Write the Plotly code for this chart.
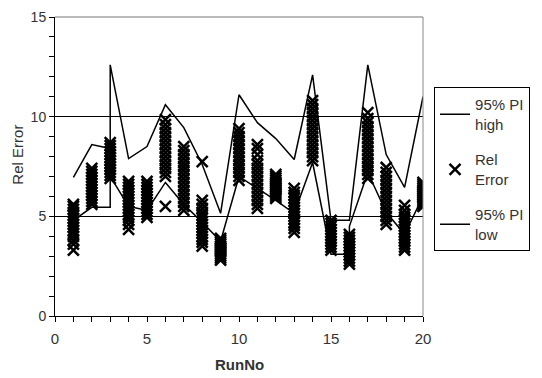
import plotly.graph_objects as go

# ---- data ----
runs = list(range(1, 21))

rel_error_by_run = [
    [3.3, 3.6, 3.8, 4.0, 4.15, 4.3, 4.45, 4.6, 4.75, 4.9, 5.05, 5.2, 5.35, 5.5, 5.6],
    [5.6, 5.75, 5.9, 6.05, 6.2, 6.35, 6.5, 6.65, 6.8, 6.95, 7.1, 7.25, 7.4],
    [6.9, 7.05, 7.2, 7.35, 7.5, 7.65, 7.8, 7.95, 8.1, 8.25, 8.4, 8.55, 8.7],
    [4.35, 4.6, 4.8, 4.95, 5.1, 5.25, 5.4, 5.55, 5.7, 5.85, 6.0, 6.15, 6.3, 6.45, 6.6, 6.75],
    [4.95, 5.1, 5.25, 5.4, 5.55, 5.7, 5.85, 6.0, 6.15, 6.3, 6.45, 6.6, 6.75],
    [5.5, 7.0, 7.2, 7.4, 7.6, 7.8, 8.0, 8.2, 8.4, 8.6, 8.8, 9.0, 9.2, 9.4, 9.6, 9.85],
    [5.3, 5.5, 5.7, 5.9, 6.1, 6.3, 6.5, 6.7, 6.9, 7.1, 7.3, 7.5, 7.7, 7.9, 8.1, 8.3, 8.5],
    [3.5, 3.7, 3.85, 4.0, 4.15, 4.3, 4.45, 4.6, 4.75, 4.9, 5.05, 5.2, 5.4, 5.6, 5.8, 7.75],
    [2.8, 2.9, 3.0, 3.1, 3.2, 3.3, 3.4, 3.5, 3.6, 3.7, 3.8, 3.9],
    [6.8, 7.0, 7.2, 7.4, 7.6, 7.8, 8.0, 8.2, 8.4, 8.6, 8.8, 9.0, 9.2, 9.4],
    [5.4, 5.6, 5.8, 6.0, 6.2, 6.4, 6.6, 6.8, 7.0, 7.2, 7.4, 7.6, 7.8, 8.1, 8.4, 8.6],
    [5.9, 6.0, 6.1, 6.2, 6.3, 6.4, 6.5, 6.6, 6.7, 6.8, 6.9, 7.0, 7.1],
    [4.2, 4.4, 4.55, 4.7, 4.85, 5.0, 5.15, 5.3, 5.45, 5.6, 5.75, 5.9, 6.05, 6.2, 6.4],
    [7.8, 8.0, 8.2, 8.4, 8.6, 8.8, 9.0, 9.2, 9.4, 9.6, 9.8, 10.0, 10.2, 10.4, 10.6, 10.8],
    [3.3, 3.45, 3.6, 3.75, 3.9, 4.05, 4.2, 4.35, 4.5, 4.65, 4.8],
    [2.6, 2.75, 2.9, 3.05, 3.2, 3.35, 3.5, 3.65, 3.8, 3.95, 4.1],
    [6.9, 7.1, 7.3, 7.5, 7.7, 7.9, 8.1, 8.3, 8.5, 8.7, 8.9, 9.1, 9.3, 9.5, 9.7, 9.9, 10.2],
    [4.6, 4.8, 5.0, 5.2, 5.4, 5.6, 5.8, 6.0, 6.2, 6.4, 6.6, 6.8, 7.0, 7.2, 7.45],
    [3.3, 3.45, 3.6, 3.75, 3.9, 4.05, 4.2, 4.35, 4.5, 4.65, 4.8, 4.95, 5.1, 5.3, 5.55],
    [5.5, 5.6, 5.7, 5.8, 5.9, 6.0, 6.1, 6.2, 6.3, 6.4, 6.5, 6.6, 6.7],
]

pi_high_x = [1, 2, 3, 3, 4, 5, 6, 7, 8, 9, 10, 11, 12, 13, 14, 15, 16, 17, 18, 19, 20]
pi_high = [6.95, 8.6, 8.4, 12.6, 7.9, 8.5, 10.6, 9.45, 7.6, 5.15, 11.1, 9.7, 8.9, 7.85,
           12.1, 4.8, 4.8, 12.6, 8.1, 6.45, 11.0]

pi_low_x = [1, 2, 3, 3, 4, 5, 6, 7, 8, 9, 10, 11, 12, 13, 14, 15, 16, 16, 17, 18, 19, 20]
pi_low = [4.8, 5.45, 5.45, 7.0, 5.5, 5.3, 6.7, 5.6, 4.7, 3.75, 7.0, 6.4, 5.8, 5.15,
          7.7, 3.1, 3.1, 4.5, 7.2, 5.2, 4.1, 6.0]

# flatten Rel Error
rel_x, rel_y = [], []
for r, vals in zip(runs, rel_error_by_run):
    for v in vals:
        rel_x.append(r)
        rel_y.append(v)

FONT = "Liberation Sans, Arial, sans-serif"
TXT = "#333333"

fig = go.Figure()
fig.add_trace(go.Scatter(
    x=pi_high_x, y=pi_high, mode="lines", name="95% PI<br>high", legendgroup="a",
    line=dict(color="black", width=1.5)))
fig.add_trace(go.Scatter(
    x=rel_x, y=rel_y, mode="markers", name="Rel<br>Error", legendgroup="b",
    marker=dict(symbol="x-thin-open", size=11, color="black",
                line=dict(color="black", width=2.5))))
fig.add_trace(go.Scatter(
    x=pi_low_x, y=pi_low, mode="lines", name="95% PI<br>low", legendgroup="c",
    line=dict(color="black", width=1.5)))

fig.update_layout(
    width=542, height=378,
    margin=dict(l=47, r=127, t=9, b=70, autoexpand=False),
    paper_bgcolor="white", plot_bgcolor="white",
    font=dict(family=FONT, size=15, color=TXT),
    showlegend=True,
    legend=dict(x=1.03, y=0.765, xanchor="left", yanchor="top",
                bordercolor="black", borderwidth=1, bgcolor="white",
                font=dict(family=FONT, size=15, color=TXT),
                tracegroupgap=13),
    xaxis=dict(range=[0, 20], dtick=5, tick0=0, showgrid=False, zeroline=False,
               showline=True, linecolor="black", linewidth=1,
               ticks="outside", ticklen=5, tickcolor="black",
               minor=dict(dtick=1, ticks="outside", ticklen=5, tickcolor="black", showgrid=False),
               tickfont=dict(size=15, color=TXT), ticklabelstandoff=4,
               ticklabeloverflow="allow"),
    yaxis=dict(range=[0, 15], dtick=5, tick0=0, showgrid=True, gridcolor="black",
               gridwidth=1, zeroline=False,
               showline=True, linecolor="black", linewidth=1,
               ticks="outside", ticklen=5, tickcolor="black",
               minor=dict(dtick=1, ticks="outside", ticklen=5, tickcolor="black", showgrid=False),
               tickfont=dict(size=14, color=TXT), ticklabeloverflow="allow"),
    shapes=[
        dict(type="line", xref="paper", yref="paper", x0=1, x1=1, y0=0, y1=1,
             line=dict(color="#888888", width=1)),
        dict(type="line", xref="paper", yref="paper", x0=0, x1=1, y0=1, y1=1,
             line=dict(color="#777777", width=1.2)),
    ],
    annotations=[
        dict(text="Rel Error", xref="paper", yref="paper", x=-0.103, y=0.54,
             xanchor="center", yanchor="middle",
             textangle=-90, showarrow=False, font=dict(size=15, color=TXT, family=FONT)),
        dict(text="<b>RunNo</b>", xref="paper", yref="paper", x=0.5, y=-0.163,
             xanchor="center", yanchor="middle",
             showarrow=False, font=dict(size=15, color=TXT, family=FONT)),
    ],
)

fig.write_html("out.html")
